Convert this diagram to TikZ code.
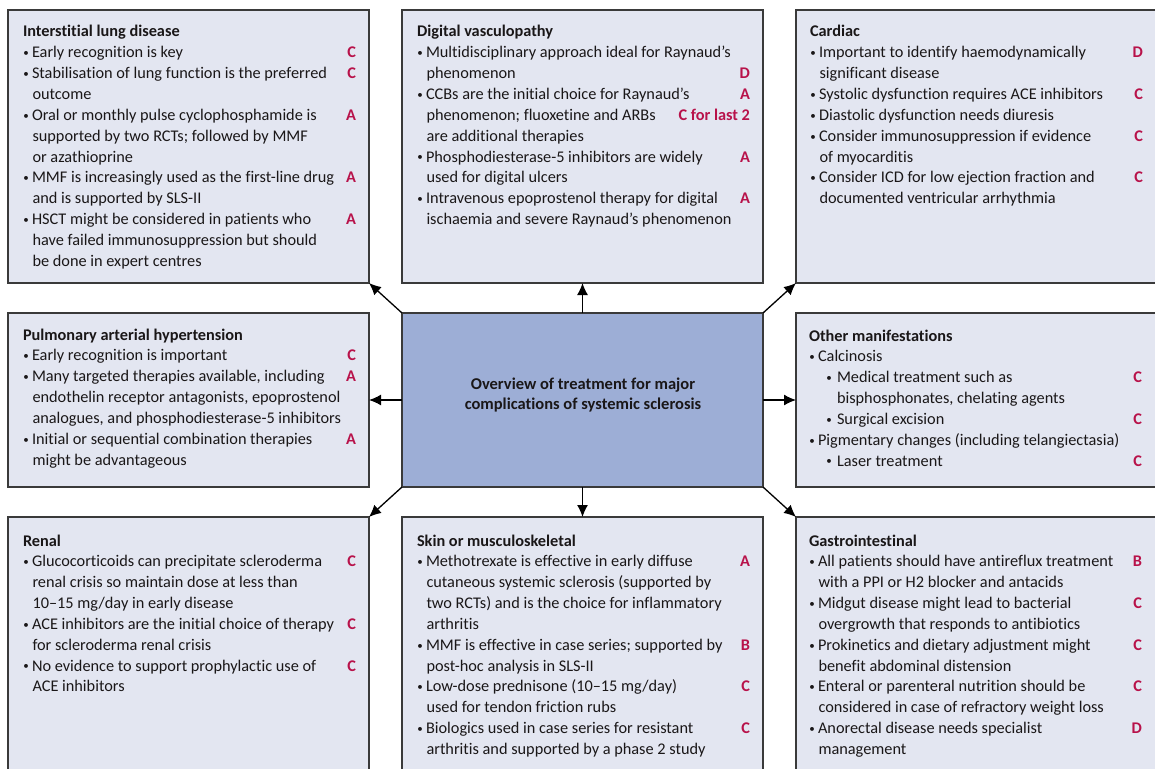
\documentclass[tikz,border=0pt]{standalone}
\usepackage{fontspec}
\setmainfont{Carlito}[Ligatures=NoCommon]
\usetikzlibrary{arrows.meta}
\definecolor{boxfill}{HTML}{E3E6F1}
\definecolor{ctrfill}{HTML}{9DAED6}
\definecolor{boxline}{HTML}{3A3A3A}
\definecolor{grade}{HTML}{B8124A}
\definecolor{txt}{HTML}{1A1718}
\newlength\colw \setlength\colw{333bp}
\newcommand\hd[1]{\hbox{\bfseries #1}}
\newcommand\gr[1]{\textcolor{grade}{\bfseries #1}}
\newcommand\bdot{\makebox[6bp][c]{\raisebox{1.2bp}{\fontsize{11bp}{11bp}\selectfont •}}}
\newcommand\bu[2]{\hbox to \colw{\bdot\hspace{3bp}#1\hfill\gr{#2}}}
\newcommand\co[2]{\hbox to \colw{\hspace{9.5bp}#1\hfill\gr{#2}}}
\newcommand\sbu[2]{\hbox to \colw{\hspace{17bp}\bdot\hspace{5bp}#1\hfill\gr{#2}}}
\newcommand\sco[2]{\hbox to \colw{\hspace{28bp}#1\hfill\gr{#2}}}
\tikzset{
  panel/.style={draw=boxline, line width=1.3bp, fill=boxfill, rectangle, inner sep=0, outer sep=0,
    minimum width=361bp, minimum height=273bp, anchor=north west},
  midpanel/.style={panel, minimum height=174bp},
  ctrbox/.style={panel, fill=ctrfill, minimum height=174bp},
  body/.style={anchor=base west, inner sep=0, outer sep=0, text=txt,
    font=\fontsize{16.3bp}{20.85bp}\selectfont},
  arr/.style={-{Latex[length=12bp,width=11bp]}, line width=1.3bp, black},
}
\begin{document}
\begin{tikzpicture}[x=1bp,y=-1bp]
\useasboundingbox (0,0) rectangle (1155,769);
\clip (0,0) rectangle (1155,769);
\fill[white] (0,0) rectangle (1155,769);
% panels
\node[panel] (ild) at (8,10) {};
\node[panel] (dv) at (402,10) {};
\node[panel] (card) at (796,10) {};
\node[midpanel] (pah) at (8,313) {};
\node[ctrbox] (ctr) at (402,313) {};
\node[midpanel] (oth) at (796,313) {};
\node[panel] (ren) at (8,517) {};
\node[panel] (skin) at (402,517) {};
\node[panel] (gi) at (796,517) {};
% arrows
\draw[arr] (ctr.north) -- (dv.south);
\draw[arr] (ctr.south) -- (skin.north);
\draw[arr] (ctr.west) -- (pah.east);
\draw[arr] (ctr.east) -- (oth.west);
\draw[arr] (ctr.north west) -- (ild.south east);
\draw[arr] (ctr.north east) -- (card.south west);
\draw[arr] (ctr.south west) -- (ren.north east);
\draw[arr] (ctr.south east) -- (gi.north west);
% centre title
\node[inner sep=0, text=txt, align=center, font=\bfseries\fontsize{16.5bp}{20bp}\selectfont] (title) at (583,395)
  {Overview of treatment for major\\complications of systemic sclerosis};
% texts
\node[body] (ildt) at (23,37) {\vtop{%
\hd{Interstitial lung disease}
\bu{Early recognition is key}{C}
\bu{Stabilisation of lung function is the preferred}{C}
\co{outcome}{}
\bu{Oral or monthly pulse cyclophosphamide is}{A}
\co{supported by two RCTs; followed by MMF}{}
\co{or azathioprine}{}
\bu{MMF is increasingly used as the first-line drug}{A}
\co{and is supported by SLS-II}{}
\bu{HSCT might be considered in patients who}{A}
\co{have failed immunosuppression but should}{}
\co{be done in expert centres}{}
}};
\node[body] (dvt) at (417,37) {\vtop{%
\hd{Digital vasculopathy}
\bu{Multidisciplinary approach ideal for Raynaud’s}{}
\co{phenomenon}{D}
\bu{CCBs are the initial choice for Raynaud’s}{A}
\co{phenomenon; fluoxetine and ARBs}{C for last 2}
\co{are additional therapies}{}
\bu{Phosphodiesterase-5 inhibitors are widely}{A}
\co{used for digital ulcers}{}
\bu{Intravenous epoprostenol therapy for digital}{A}
\co{ischaemia and severe Raynaud’s phenomenon}{}
}};
\node[body] (cardt) at (810,37) {\vtop{%
\hd{Cardiac}
\bu{Important to identify haemodynamically}{D}
\co{significant disease}{}
\bu{Systolic dysfunction requires ACE inhibitors}{C}
\bu{Diastolic dysfunction needs diuresis}{}
\bu{Consider immunosuppression if evidence}{C}
\co{of myocarditis}{}
\bu{Consider ICD for low ejection fraction and}{C}
\co{documented ventricular arrhythmia}{}
}};
\node[body] (paht) at (23,340) {\vtop{%
\hd{Pulmonary arterial hypertension}
\bu{Early recognition is important}{C}
\bu{Many targeted therapies available, including}{A}
\co{endothelin receptor antagonists, epoprostenol}{}
\co{analogues, and phosphodiesterase-5 inhibitors}{}
\bu{Initial or sequential combination therapies}{A}
\co{might be advantageous}{}
}};
\node[body] (otht) at (809,341) {\vtop{%
\hd{Other manifestations}
\bu{Calcinosis}{}
\sbu{Medical treatment such as}{C}
\sco{bisphosphonates, chelating agents}{}
\sbu{Surgical excision}{C}
\bu{Pigmentary changes (including telangiectasia)}{}
\sbu{Laser treatment}{C}
}};
\node[body] (rent) at (23,546) {\vtop{%
\hd{Renal}
\bu{Glucocorticoids can precipitate scleroderma}{C}
\co{renal crisis so maintain dose at less than}{}
\co{10–15 mg/day in early disease}{}
\bu{ACE inhibitors are the initial choice of therapy}{C}
\co{for scleroderma renal crisis}{}
\bu{No evidence to support prophylactic use of}{C}
\co{ACE inhibitors}{}
}};
\node[body] (skint) at (417,546) {\vtop{%
\hd{Skin or musculoskeletal}
\bu{Methotrexate is effective in early diffuse}{A}
\co{cutaneous systemic sclerosis (supported by}{}
\co{two RCTs) and is the choice for inflammatory}{}
\co{arthritis}{}
\bu{MMF is effective in case series; supported by}{B}
\co{post-hoc analysis in SLS-II}{}
\bu{Low-dose prednisone (10–15 mg/day)}{C}
\co{used for tendon friction rubs}{}
\bu{Biologics used in case series for resistant}{C}
\co{arthritis and supported by a phase 2 study}{}
}};
\node[body] (git) at (809,546) {\vtop{%
\hd{Gastrointestinal}
\bu{All patients should have antireflux treatment}{B}
\co{with a PPI or H2 blocker and antacids}{}
\bu{Midgut disease might lead to bacterial}{C}
\co{overgrowth that responds to antibiotics}{}
\bu{Prokinetics and dietary adjustment might}{C}
\co{benefit abdominal distension}{}
\bu{Enteral or parenteral nutrition should be}{C}
\co{considered in case of refractory weight loss}{}
\bu{Anorectal disease needs specialist}{D}
\co{management}{}
}};
\end{tikzpicture}
\end{document}
